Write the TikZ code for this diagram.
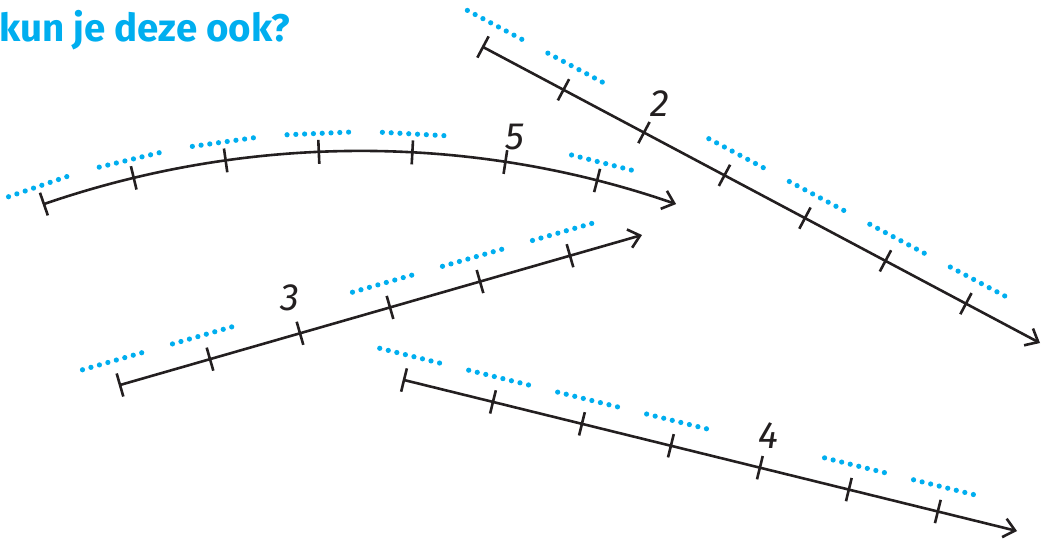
\documentclass[tikz,border=0pt]{standalone}
\usepackage{fontspec}
\setmainfont{Fira Sans}
\usetikzlibrary{arrows.meta, calc}
\definecolor{dotblue}{RGB}{0, 174, 239}
\definecolor{lineblack}{RGB}{35, 31, 32}
\tikzset{
  numline/.style={draw=lineblack, line width=2.6pt,
    -{Straight Barb[length=11pt, width=19pt, line width=2.6pt]}},
  tickmark/.style={draw=lineblack, line width=2.6pt},
  blanks/.style={draw=dotblue, line width=5.2pt, line cap=round,
    dash pattern=on 0pt off 8.8pt},
  numlabel/.style={font=\fontsize{38}{38}\selectfont\itshape, text=lineblack, inner sep=0pt}
}

\begin{document}
\begin{tikzpicture}[x=1pt, y=-1pt]
    \useasboundingbox (0,0) rectangle (1046,539);

    \node[anchor=base west, inner sep=0pt, text=dotblue,
          font=\fontsize{38.5}{38.5}\selectfont\bfseries] (title) at (-1,41) {kun je deze ook?};

    % straight number lines
    \coordinate (a2) at (483,47);  \coordinate (b2) at (1040,343);
    \coordinate (a3) at (120,385); \coordinate (b3) at (642,235);
    \coordinate (a4) at (404,380); \coordinate (b4) at (1017,531);

    \foreach \l/\n/\gap in {2/6.92/2, 3/5.8/2, 4/6.89/4} {
        \draw[numline] (a\l) -- (b\l);
        \coordinate (au) at ($(a\l)!25pt!90:(b\l)$);
        \coordinate (bu) at ($(b\l)!25pt!-90:(a\l)$);
        \pgfmathtruncatemacro\last{\n}
        \foreach \k in {0,...,\last} {
            \coordinate (t) at ($(a\l)!\k/\n!(b\l)$);
            \draw[tickmark] ($(t)!12pt!90:(b\l)$) -- ($(t)!12pt!-90:(b\l)$);
            \ifnum\k=\gap\else
                \draw[blanks] ($(au)!{(\k-0.34)/\n}!(bu)$) -- ($(au)!{(\k+0.34)/\n}!(bu)$);
            \fi
        }
    }

    % curved number line
    \coordinate (c5) at (360,1119);
    \draw[numline] ($(c5)+(-109.06:968)$) arc[start angle=-109.06, end angle=-70.94, radius=968];
    \foreach \k in {0,...,6} {
        \pgfmathsetmacro\a{-109.06+5.54*\k}
        \draw[tickmark] ($(c5)+(\a:956)$) -- ($(c5)+(\a:980)$);
        \ifnum\k=5\else
            \draw[blanks] ($(c5)+(\a-1.8:987)$) -- ($(c5)+(\a+1.8:987)$);
        \fi
    }

    \node[numlabel] (lab2) at (660,104) {2};
    \node[numlabel] (lab3) at (290,298) {3};
    \node[numlabel] (lab4) at (768,436) {4};
    \node[numlabel] (lab5) at (515,137) {5};
\end{tikzpicture}
\end{document}
